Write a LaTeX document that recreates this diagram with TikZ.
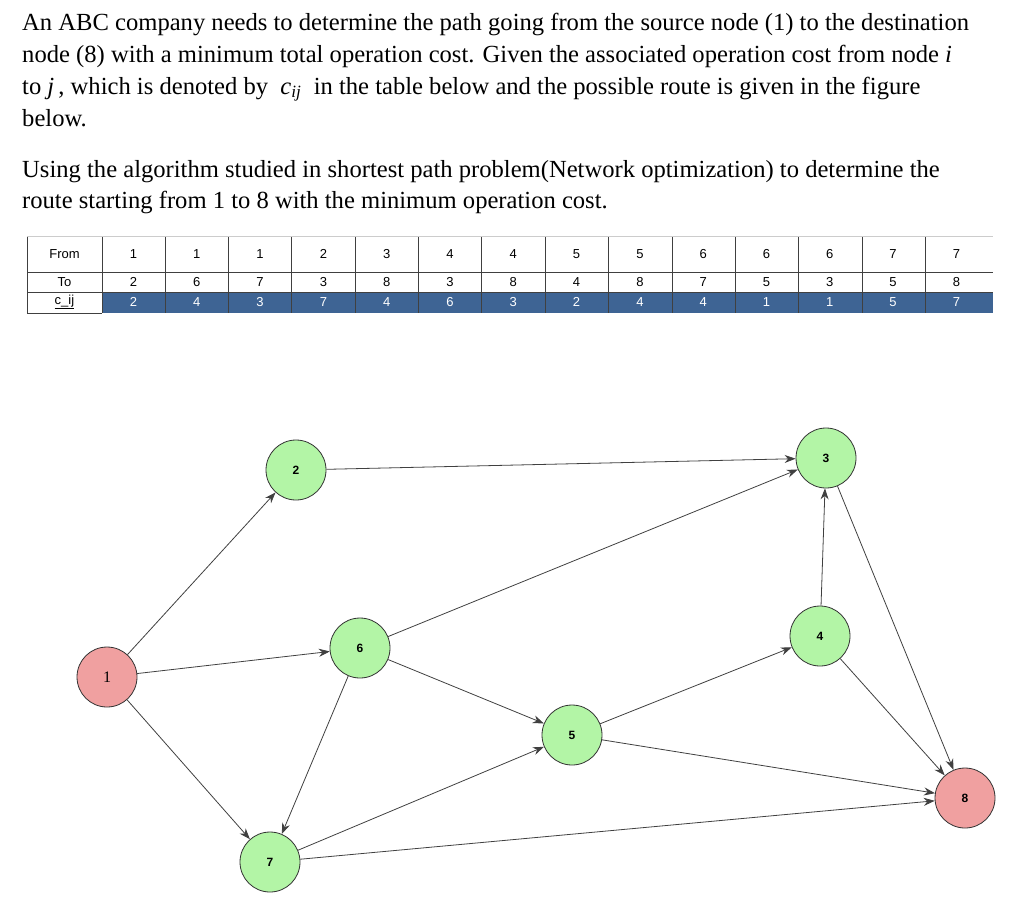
\documentclass[tikz,border=0pt]{standalone}
\usepackage{fontspec}
\setmainfont{Liberation Serif}
\newfontfamily\tabfont{Liberation Sans}
\usetikzlibrary{arrows.meta}
\definecolor{cellblue}{HTML}{3E6494}
\definecolor{ngreen}{HTML}{B3F5A6}
\definecolor{npink}{HTML}{F0A0A0}
\begin{document}
\begin{tikzpicture}[x=1pt,y=-1pt,
  txt/.style={anchor=base west,inner sep=0pt,font=\fontsize{24.6}{28}\selectfont},
  cell/.style={font=\tabfont\fontsize{13}{15}\selectfont,inner sep=0pt},
  nd/.style={circle,draw=black!80,line width=0.8pt,minimum size=60pt,inner sep=0pt,font=\tabfont\bfseries\fontsize{12}{14}\selectfont},
  g/.style={nd,fill=ngreen},
  p/.style={nd,fill=npink},
  e/.style={-{Stealth[length=11pt,width=8pt]},draw=black!75,line width=0.8pt}]
\useasboundingbox (0,0) rectangle (1024,921);
\node[txt] (l1) at (22,30) {An ABC company needs to determine the path going from the source node (1) to the destination};
\node[txt] (l2) at (22,62) {node (8) with a minimum total operation cost. Given the associated operation cost from node \textit{i}};
\node[txt] (l3) at (22,94) {to \textit{j}\,, which is denoted by \ \textit{c}\textsubscript{\textit{ij}} \ in the table below and the possible route is given in the figure};
\node[txt] (l4) at (22,126) {below.};
\node[txt] (l5) at (22,177) {Using the algorithm studied in shortest path problem(Network optimization) to determine the};
\node[txt] (l6) at (22,208) {route starting from 1 to 8 with the minimum operation cost.};
% table
\fill[cellblue] (102,292) rectangle (993,313);
\foreach \x in {102,165,228,291,355,418,481,545,608,672,735,798,862,925}
  \draw[black!75,line width=0.8pt] (\x,236) -- (\x,313);
\draw[black!75,line width=0.8pt] (27,236) -- (27,313);
\draw[black!20] (27,236) -- (993,236);
\draw[black!75,line width=0.8pt] (27,272) -- (993,272);
\draw[black!75,line width=0.8pt] (27,292) -- (993,292);
\draw[black!75,line width=0.8pt] (27,313) -- (102,313);
\node[cell] (hf) at (64.5,254) {From};
\node[cell] (ht) at (64.5,282) {To};
\node[cell] (hc) at (64.5,302) {\underline{c\_ij}};
\foreach \f/\t/\c [count=\i from 0] in {1/2/2,1/6/4,1/7/3,2/3/7,3/8/4,4/3/6,4/8/3,5/4/2,5/8/4,6/7/4,6/5/1,6/3/1,7/5/5,7/8/7}{
  \pgfmathsetmacro\cx{133.5+63.3*\i}
  \node[cell] (f\i) at (\cx,254) {\f};
  \node[cell] (t\i) at (\cx,282) {\t};
  \node[cell,text=white] (c\i) at (\cx,302) {\c};
}
% graph
\node[p,font=\fontsize{16}{18}\selectfont] (n1) at (107,677) {1};
\node[g] (n2) at (296,470) {2};
\node[g] (n3) at (826,458) {3};
\node[g] (n4) at (820,636) {4};
\node[g] (n5) at (572,735) {5};
\node[g] (n6) at (360,648) {6};
\node[g] (n7) at (270,862) {7};
\node[p] (n8) at (965,798) {8};
\draw[e] (n1) -- (n2);
\draw[e] (n1) -- (n6);
\draw[e] (n1) -- (n7);
\draw[e] (n2) -- (n3);
\draw[e] (n6) -- (n3);
\draw[e] (n6) -- (n5);
\draw[e] (n6) -- (n7);
\draw[e] (n7) -- (n5);
\draw[e] (n7) -- (n8);
\draw[e] (n5) -- (n4);
\draw[e] (n5) -- (n8);
\draw[e] (n4) -- (n3);
\draw[e] (n4) -- (n8);
\draw[e] (n3) -- (n8);
\end{tikzpicture}
\end{document}
